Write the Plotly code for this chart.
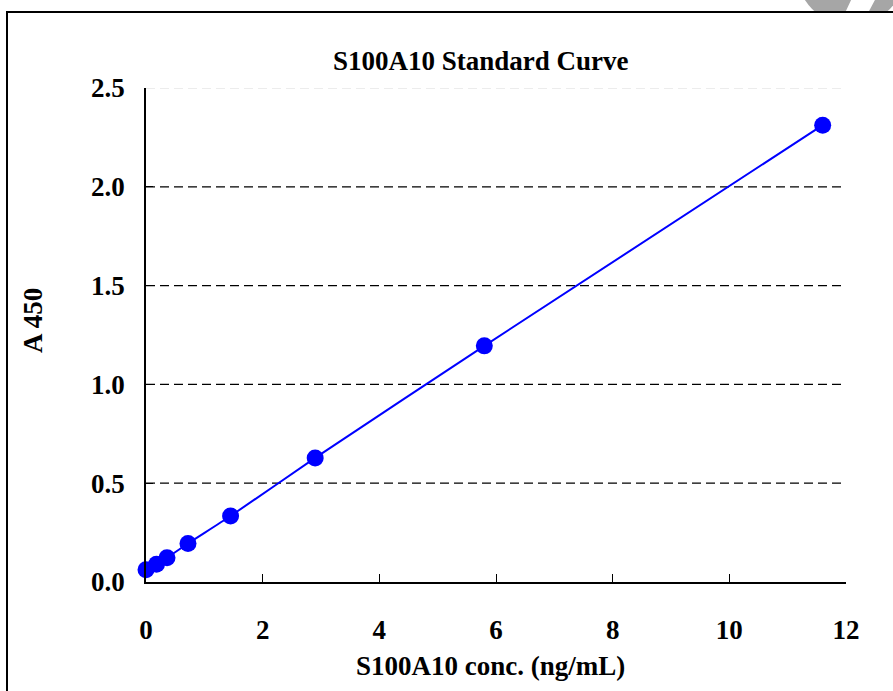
import plotly.graph_objects as go

conc = [0.0, 0.18, 0.36, 0.72, 1.45, 2.9, 5.8, 11.6]
a450 = [0.062, 0.090, 0.123, 0.195, 0.334, 0.628, 1.195, 2.312]
x_ticks = [0, 2, 4, 6, 8, 10, 12]
y_ticks = [0.0, 0.5, 1.0, 1.5, 2.0, 2.5]
y_tick_text = ["0.0", "0.5", "1.0", "1.5", "2.0", "2.5"]

FONT = "Liberation Serif, Times New Roman, serif"
FS = 27
L, R, T, B = 146, 47, 88, 109
W, H = 893, 691
PW, PH = W - L - R, H - T - B

def px(x):
    return (x - L) / PW

def py(y):
    return (H - B - y) / PH

fig = go.Figure()
fig.add_trace(go.Scatter(
    x=conc, y=a450, mode="lines+markers",
    line=dict(color="#0000FF", width=2, shape="spline", smoothing=0.6),
    marker=dict(color="#0000FF", size=17),
    showlegend=False, cliponaxis=False, hoverinfo="skip",
))

shapes = []
for v in y_ticks[1:]:
    shapes.append(dict(type="line", xref="paper", yref="y", x0=0, x1=1, y0=v, y1=v,
                       line=dict(color="#D9D9D9" if v == y_ticks[-1] else "black",
                                 width=1.2, dash="9px,5px"), layer="below"))
# logo fragment top-right
shapes.append(dict(type="circle", xref="paper", yref="paper",
                   x0=px(796), x1=px(906), y0=py(-85), y1=py(25),
                   fillcolor="#A6A6A6", line=dict(width=0), layer="below"))
shapes.append(dict(type="path", xref="paper", yref="paper",
                   path=f"M {px(852)} {py(-2)} L {px(876)} {py(-2)} L {px(868)} {py(13)} L {px(845)} {py(13)} Z",
                   fillcolor="white", line=dict(width=0), layer="below"))
shapes.append(dict(type="rect", xref="paper", yref="paper",
                   x0=px(780), x1=px(900), y0=py(12), y1=py(60),
                   fillcolor="white", line=dict(width=0), layer="below"))
# outer border
shapes.append(dict(type="rect", xref="paper", yref="paper",
                   x0=px(7), x1=px(900), y0=py(12), y1=py(700),
                   line=dict(color="black", width=2)))

fig.update_layout(
    width=W, height=H,
    margin=dict(l=L, r=R, t=T, b=B),
    paper_bgcolor="white", plot_bgcolor="white",
    font=dict(family=FONT, size=FS, color="black"),
    shapes=shapes,
    hovermode=False,
    xaxis=dict(range=[0, 12], tickvals=x_ticks, ticks="inside", ticklen=8,
               tickcolor="black", tickwidth=1.2, showline=True, linecolor="black",
               linewidth=1.5, showgrid=False, zeroline=False,
               tickfont=dict(family=FONT, size=FS, color="black", weight="bold"),
               ticklabelstandoff=23),
    yaxis=dict(range=[0, 2.5], tickvals=y_ticks, ticktext=y_tick_text, ticks="inside",
               ticklen=7, tickcolor="black", tickwidth=1.2, showline=True,
               linecolor="black", linewidth=1.5, showgrid=False, zeroline=False,
               tickfont=dict(family=FONT, size=FS, color="black", weight="bold"),
               ticklabelstandoff=14),
    annotations=[
        dict(text="<b>S100A10 Standard Curve</b>", xref="paper", yref="paper",
             x=px(481), y=py(61), showarrow=False, xanchor="center", yanchor="middle",
             font=dict(family=FONT, size=FS, color="black")),
        dict(text="<b>S100A10 conc. (ng/mL)</b>", xref="paper", yref="paper",
             x=px(490), y=py(666), showarrow=False, xanchor="center", yanchor="middle",
             font=dict(family=FONT, size=FS, color="black")),
        dict(text="<b>A 450</b>", xref="paper", yref="paper",
             x=px(33), y=py(321), showarrow=False, xanchor="center", yanchor="middle",
             textangle=-90, font=dict(family=FONT, size=FS, color="black")),
    ],
)

fig.write_html("out.html", config={"displayModeBar": False},
               post_script="document.body.style.margin='0';document.body.style.overflow='hidden';")
